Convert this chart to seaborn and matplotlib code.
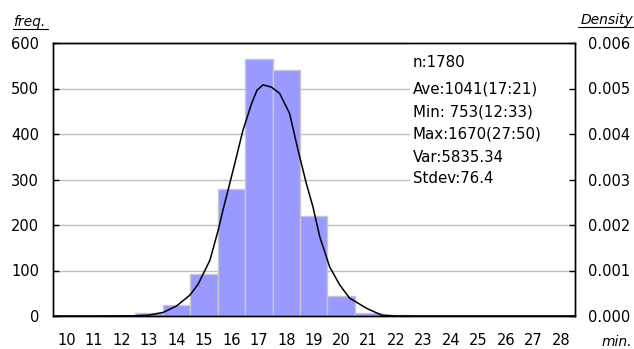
import matplotlib
matplotlib.use("Agg")
import matplotlib.pyplot as plt
import matplotlib.patches as mpatches
from matplotlib.ticker import FixedLocator, FormatStrFormatter
import seaborn as sns
import pandas as pd

# ---- data ----
minutes = [10, 11, 12, 13, 14, 15, 16, 17, 18, 19, 20, 21, 22, 23, 24, 25, 26, 27, 28]
freq = [0, 0, 1, 6, 24, 92, 279, 564, 540, 219, 43, 7, 2, 1, 1, 0, 0, 1, 0]

curve_x = [9.5, 11.0, 12.5, 13.0, 13.52, 14.0, 14.49, 14.79, 15.22, 15.52, 15.69, 16.06,
           16.42, 16.73, 16.93, 17.15, 17.46, 17.76, 18.12, 18.43, 18.73, 18.97, 19.22,
           19.58, 19.95, 20.31, 20.43, 20.92, 21.47, 22.0, 28.5]
curve_density = [0.0, 0.0, 0.000005, 0.00002, 0.00008, 0.00022, 0.00046, 0.00070, 0.00123,
                 0.00189, 0.00232, 0.00320, 0.00408, 0.00466, 0.00496, 0.00508, 0.00503,
                 0.00489, 0.00445, 0.00364, 0.00291, 0.00240, 0.00174, 0.00108, 0.00068,
                 0.00039, 0.00035, 0.00017, 0.00002, 0.0, 0.0]

stats_lines = ["n:1780", "Ave:1041(17:21)", "Min: 753(12:33)", "Max:1670(27:50)",
               "Var:5835.34", "Stdev:76.4"]
left_ticks = [0, 100, 200, 300, 400, 500, 600]
right_ticks = [0.000, 0.001, 0.002, 0.003, 0.004, 0.005, 0.006]

sns.set_style("white")
plt.rcParams['font.family'] = ['DejaVu Sans']
plt.rcParams['text.color'] = 'black'
plt.rcParams['xtick.color'] = 'black'
plt.rcParams['ytick.color'] = 'black'
plt.rcParams['axes.labelcolor'] = 'black'

fig = plt.figure(figsize=(6.34, 3.49), dpi=100)
ax = fig.add_axes([53 / 634, 1 - 316 / 349, (574.5 - 53) / 634, (316 - 43) / 349])

df = pd.DataFrame({"minute": minutes, "freq": freq})
sns.barplot(data=df, x="minute", y="freq", native_scale=True, width=1.0,
            color="#9999ff", saturation=1, edgecolor="#c8c8c8", linewidth=1.0, ax=ax)

ax.set_xlim(9.5, 28.5)
ax.set_ylim(0, 600)
ax.yaxis.set_major_locator(FixedLocator(left_ticks))
ax.grid(axis="y", color="#c0c0c0", linewidth=1.0)
ax.set_axisbelow(True)
ax.set_xlabel("")
ax.set_ylabel("")

ax.xaxis.set_major_locator(FixedLocator(minutes))
ax.set_xticklabels([str(m) for m in minutes])
ax.xaxis.set_minor_locator(FixedLocator([m - 0.5 for m in minutes] + [28.5]))
ax.tick_params(axis="x", which="major", length=0, pad=12.5, labelsize=10.5, labelcolor="black")
ax.tick_params(axis="x", which="minor", direction="in", length=4.5, width=1, color="black")
ax.tick_params(axis="y", direction="in", length=4, width=1, color="black", pad=10,
               labelsize=10.5, labelcolor="black")
for s in ax.spines.values():
    s.set_color("black")
    s.set_linewidth(1.0)

# white panel behind the stats text
ax.add_patch(mpatches.Rectangle((0.684, 0.45), 0.316, 0.55, transform=ax.transAxes,
                                facecolor="white", edgecolor="none", zorder=0.6))

ax2 = ax.twinx()
sns.lineplot(x=curve_x, y=curve_density, ax=ax2, color="black", linewidth=1.1)
ax2.set_ylim(0, 0.006)
ax2.yaxis.set_major_locator(FixedLocator(right_ticks))
ax2.yaxis.set_major_formatter(FormatStrFormatter("%.3f"))
ax2.tick_params(axis="y", direction="in", length=4, width=1, color="black", pad=10,
                labelsize=10.5, labelcolor="black")
ax2.set_ylabel("")
for s in ax2.spines.values():
    s.set_color("black")
    s.set_linewidth(1.0)

ys = [0.930, 0.832, 0.749, 0.665, 0.582, 0.502]
for t, y in zip(stats_lines, ys):
    ax2.text(0.69, y, t, transform=ax.transAxes, ha="left", va="center", fontsize=10.8,
             color="black")

fig.text(13 / 634, 1 - 22 / 349, "freq.", ha="left", va="center", fontsize=10,
         style="italic", color="black")
fig.text(633 / 634, 1 - 20 / 349, "Density", ha="right", va="center", fontsize=10,
         style="italic", color="black")
fig.text(632 / 634, 1 - 342 / 349, "min.", ha="right", va="center", fontsize=10,
         style="italic", color="black")
# underlines for the axis-unit labels
fig.add_artist(plt.Line2D([13 / 634, 48 / 634], [1 - 29 / 349] * 2, color="black", lw=0.8))
fig.add_artist(plt.Line2D([578 / 634, 633 / 634], [1 - 27 / 349] * 2, color="black", lw=0.8))

fig.savefig("out.png", dpi=100)
